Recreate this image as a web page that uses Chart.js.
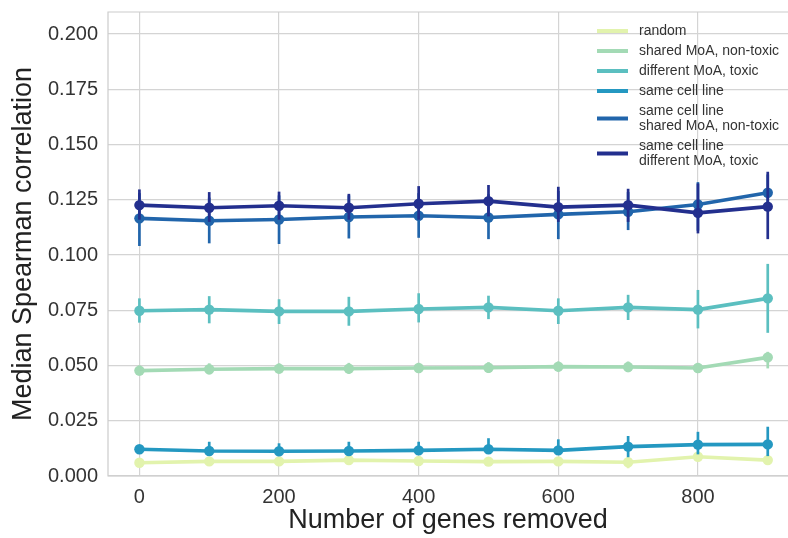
<!DOCTYPE html>
<html>
<head>
<meta charset="utf-8">
<script src="https://cdn.jsdelivr.net/npm/chart.js@4.4.1/dist/chart.umd.min.js"></script>
<style>
  html, body { margin: 0; padding: 0; background: #fff; }
  #wrap { width: 788px; height: 538px; }
</style>
</head>
<body>
<div id="wrap"><canvas id="chart" width="788" height="538"></canvas></div>
<script>
// genes removed (x) and tick labels
const genesRemoved = [0, 100, 200, 300, 400, 500, 600, 700, 800, 900];
const xTickValues = [0, 200, 400, 600, 800];
const yTickValues = [0, 0.025, 0.05, 0.075, 0.1, 0.125, 0.15, 0.175, 0.2];

// median Spearman correlation per group, with CI bounds
const randomMedian = [0.0060, 0.0066, 0.0066, 0.0072, 0.0068, 0.0065, 0.0066, 0.0062, 0.0087, 0.0072];
const randomLow = [0.0042, 0.0048, 0.0049, 0.0052, 0.0050, 0.0048, 0.0049, 0.0035, 0.0072, 0.0056];
const randomHigh = [0.0078, 0.0084, 0.0084, 0.0092, 0.0086, 0.0083, 0.0084, 0.0085, 0.0103, 0.0090];

const sharedMedian = [0.0477, 0.0483, 0.0486, 0.0486, 0.0489, 0.0490, 0.0495, 0.0493, 0.0489, 0.0537];
const sharedLow = [0.0455, 0.0460, 0.0463, 0.0462, 0.0466, 0.0466, 0.0472, 0.0470, 0.0466, 0.0487];
const sharedHigh = [0.0500, 0.0510, 0.0510, 0.0512, 0.0512, 0.0515, 0.0518, 0.0518, 0.0512, 0.0562];

const diffMedian = [0.0748, 0.0753, 0.0745, 0.0745, 0.0756, 0.0763, 0.0748, 0.0763, 0.0753, 0.0804];
const diffLow = [0.0694, 0.0691, 0.0688, 0.0680, 0.0695, 0.0710, 0.0688, 0.0706, 0.0668, 0.0648];
const diffHigh = [0.0804, 0.0814, 0.0800, 0.0811, 0.0827, 0.0816, 0.0804, 0.0820, 0.0842, 0.0960];

const cellMedian = [0.0121, 0.0113, 0.0112, 0.0113, 0.0116, 0.0121, 0.0116, 0.0133, 0.0142, 0.0143];
const cellLow = [0.0102, 0.0095, 0.0096, 0.0095, 0.0098, 0.0100, 0.0096, 0.0085, 0.0098, 0.0090];
const cellHigh = [0.0140, 0.0155, 0.0148, 0.0155, 0.0155, 0.0171, 0.0166, 0.0181, 0.0200, 0.0223];

const cellSharedMedian = [0.1166, 0.1155, 0.1161, 0.1172, 0.1178, 0.1170, 0.1184, 0.1196, 0.1229, 0.1282];
const cellSharedLow = [0.1041, 0.1053, 0.1050, 0.1075, 0.1078, 0.1072, 0.1072, 0.1113, 0.1110, 0.1200];
const cellSharedHigh = [0.1280, 0.1260, 0.1270, 0.1270, 0.1280, 0.1275, 0.1290, 0.1285, 0.1330, 0.1365];

const cellDiffMedian = [0.1226, 0.1214, 0.1223, 0.1214, 0.1232, 0.1244, 0.1217, 0.1226, 0.1191, 0.1219];
const cellDiffLow = [0.1160, 0.1150, 0.1160, 0.1160, 0.1160, 0.1175, 0.1150, 0.1150, 0.1098, 0.1072];
const cellDiffHigh = [0.1297, 0.1285, 0.1287, 0.1277, 0.1312, 0.1317, 0.1309, 0.1300, 0.1324, 0.1377];

const groupLabels = [
  "random",
  "shared MoA, non-toxic",
  "different MoA, toxic",
  "same cell line",
  "same cell line\nshared MoA, non-toxic",
  "same cell line\ndifferent MoA, toxic"
];
const groupColors = ["#e2f3ad", "#a3dab5", "#5bbfc0", "#2498c1", "#2165ab", "#232f8e"];

const medians = [randomMedian, sharedMedian, diffMedian, cellMedian, cellSharedMedian, cellDiffMedian];
const lows = [randomLow, sharedLow, diffLow, cellLow, cellSharedLow, cellDiffLow];
const highs = [randomHigh, sharedHigh, diffHigh, cellHigh, cellSharedHigh, cellDiffHigh];

const fontFamily = "'Liberation Sans', Arial, Helvetica, sans-serif";

const datasets = medians.map((vals, i) => ({
  label: groupLabels[i],
  data: genesRemoved.map((x, j) => ({ x: x, y: vals[j] })),
  low: lows[i],
  high: highs[i],
  borderColor: groupColors[i],
  backgroundColor: groupColors[i],
  borderWidth: 3.6,
  pointRadius: 5.2,
  pointHoverRadius: 5.2,
  pointBorderWidth: 0,
  tension: 0,
  order: groupLabels.length - i
}));

// vertical CI bars, drawn with the dataset
const errorBars = {
  id: "errorBars",
  afterDatasetDraw(chart, args) {
    const ds = chart.data.datasets[args.index];
    const xs = chart.scales.x, ys = chart.scales.y;
    const ctx = chart.ctx;
    ctx.save();
    ctx.strokeStyle = ds.borderColor;
    ctx.lineWidth = 2.7;
    ds.data.forEach((p, j) => {
      const px = xs.getPixelForValue(p.x);
      ctx.beginPath();
      ctx.moveTo(px, ys.getPixelForValue(ds.low[j]));
      ctx.lineTo(px, ys.getPixelForValue(ds.high[j]));
      ctx.stroke();
    });
    ctx.restore();
  }
};

// frame lines (left, bottom, top) like seaborn whitegrid
const frame = {
  id: "frame",
  beforeDatasetsDraw(chart) {
    const { ctx, chartArea: a } = chart;
    ctx.save();
    ctx.strokeStyle = "#cccccc";
    ctx.lineWidth = 1.2;
    ctx.beginPath();
    ctx.moveTo(a.right, a.top);
    ctx.lineTo(a.left, a.top);
    ctx.lineTo(a.left, a.bottom);
    ctx.lineTo(a.right, a.bottom);
    ctx.stroke();
    ctx.restore();
  }
};

// legend with two-line labels, no frame
const customLegend = {
  id: "customLegend",
  afterDraw(chart) {
    const ctx = chart.ctx;
    const lineH = 15, gap = 5;
    let y = 23.5;
    ctx.save();
    ctx.font = "14px " + fontFamily;
    ctx.textBaseline = "middle";
    ctx.textAlign = "left";
    chart.data.datasets.forEach(ds => {
      const lines = ds.label.split("\n");
      const h = lines.length * lineH;
      const cy = y + h / 2;
      ctx.strokeStyle = ds.borderColor;
      ctx.lineWidth = 4;
      ctx.beginPath();
      ctx.moveTo(597, cy);
      ctx.lineTo(628, cy);
      ctx.stroke();
      ctx.fillStyle = "#333333";
      lines.forEach((t, k) => ctx.fillText(t, 639, y + lineH / 2 + k * lineH));
      y += h + gap;
    });
    ctx.restore();
  }
};

new Chart(document.getElementById("chart"), {
  type: "line",
  data: { datasets: datasets },
  plugins: [frame, errorBars, customLegend],
  options: {
    responsive: false,
    animation: false,
    events: [],
    layout: { autoPadding: false, padding: { top: 12, right: 0, left: 0, bottom: 0 } },
    plugins: { legend: { display: false }, tooltip: { enabled: false } },
    scales: {
      x: {
        type: "linear",
        min: -45,
        max: 929,
        afterBuildTicks: s => { s.ticks = xTickValues.map(v => ({ value: v })); },
        afterFit: s => { s.height = 62; s.paddingLeft = 0; s.paddingRight = 0; },
        grid: { color: "#d4d4d4", lineWidth: 1.2, drawTicks: false },
        border: { display: false },
        ticks: { padding: 9, color: "#333333", font: { family: fontFamily, size: 20 } },
        title: {
          display: true,
          text: "Number of genes removed",
          color: "#222222",
          padding: { top: 0, bottom: 1 },
          font: { family: fontFamily, size: 27 }
        }
      },
      y: {
        min: 0,
        max: 0.21,
        afterBuildTicks: s => { s.ticks = yTickValues.map(v => ({ value: v })); },
        afterFit: s => { s.width = 108; s.paddingTop = 0; s.paddingBottom = 0; },
        grid: { color: "#d4d4d4", lineWidth: 1.2, drawTicks: false },
        border: { display: false },
        ticks: {
          padding: 10,
          color: "#333333",
          font: { family: fontFamily, size: 20 },
          callback: v => v.toFixed(3)
        },
        title: {
          display: true,
          text: "Median Spearman correlation",
          color: "#222222",
          padding: { top: 7, bottom: 0 },
          font: { family: fontFamily, size: 27 }
        }
      }
    }
  }
});
</script>
</body>
</html>
